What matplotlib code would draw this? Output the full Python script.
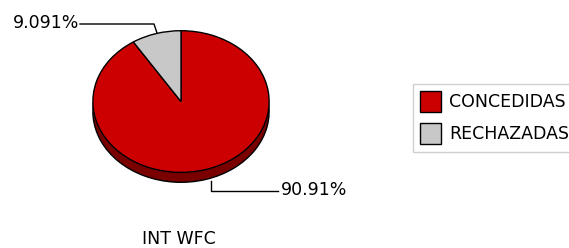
import matplotlib
matplotlib.use('Agg')
import matplotlib.pyplot as plt
from matplotlib.patches import Rectangle

# datos
categorias = ['CONCEDIDAS', 'RECHAZADAS']
valores = [10, 1]
colores = ['#cc0000', '#c8c8c8']
sombra = ['#7a0000', '#7a7a7a']
titulo = 'INT WFC'

plt.rcParams['font.family'] = ['DejaVu Sans']
fs = 12.5

W, H = 569, 248
fig = plt.figure(figsize=(W / 100, H / 100), dpi=100)

# capa base en pixeles para textos, lineas y leyenda
base = fig.add_axes([0, 0, 1, 1])
base.set_xlim(0, W)
base.set_ylim(H, 0)
base.axis('off')

# pastel eliptico con un poco de profundidad
x0, x1, y0, y1 = 92, 270, 30, 183
prof = 10 / 71.5
ax = fig.add_axes([x0 / W, 1 - y1 / H, (x1 - x0) / W, (y1 - y0) / H])
total = sum(valores)
inicio = 90 + 360 * valores[1] / total
borde = dict(edgecolor='black', linewidth=1)
ax.pie(valores, colors=sombra, startangle=inicio, center=(0, -prof), wedgeprops=borde)
ax.pie(valores, colors=colores, startangle=inicio, wedgeprops=borde)
ax.set_xlim(-1.01, 1.01)
ax.set_ylim(-1 - prof - 0.01, 1.01)
ax.set_aspect('auto')
ax.axis('off')

# etiquetas de porcentaje
pct = [v / total * 100 for v in valores]
base.plot([80, 154, 157], [24, 24, 33], color='black', lw=1)
base.text(79, 23, '{:.4g}%'.format(pct[1]), ha='right', va='center', fontsize=fs)
base.plot([211, 211, 278], [181, 191, 191], color='black', lw=1)
base.text(281, 190, '{:.4g}%'.format(pct[0]), ha='left', va='center', fontsize=fs)

# titulo
base.text(179, 239, titulo, ha='center', va='center', fontsize=fs)

# leyenda
base.add_patch(Rectangle((413, 84), 170, 68, facecolor='white', edgecolor='#d0d0d0', lw=1))
for i, (cat, col) in enumerate(zip(categorias, colores)):
    yy = 91 + i * 32
    base.add_patch(Rectangle((420, yy), 21, 21, facecolor=col, edgecolor='black', lw=1))
    base.text(449, yy + 11, cat, ha='left', va='center', fontsize=fs)

fig.savefig('out.png', dpi=100)
